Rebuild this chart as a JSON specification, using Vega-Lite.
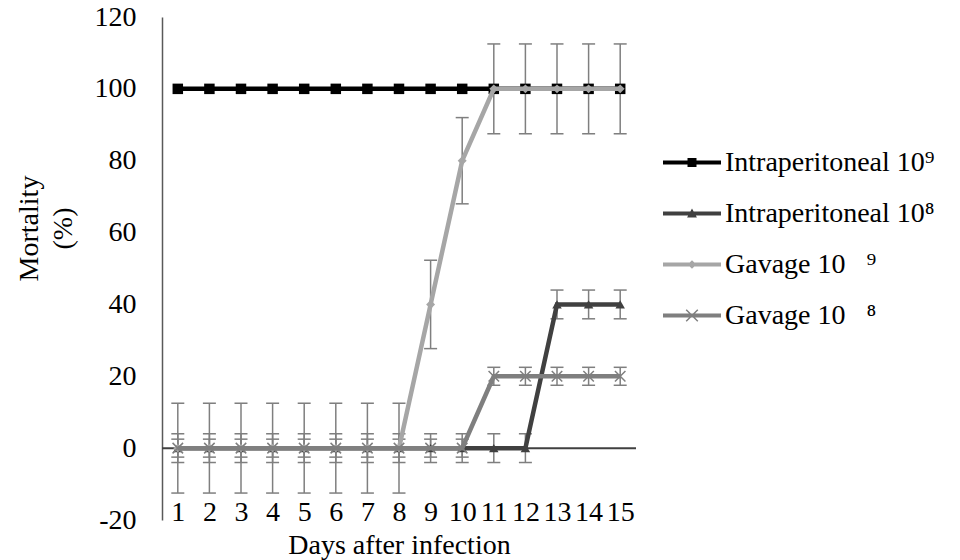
{
  "$schema": "https://vega.github.io/schema/vega-lite/v6.json",
  "autosize": {"type": "none"},
  "width": 474,
  "height": 503,
  "padding": {"left": 162, "top": 17, "right": 324, "bottom": 40},
  "background": "white",
  "config": {
    "view": {"stroke": null},
    "font": "Liberation Serif",
    "axisX": {
      "domain": false, "ticks": false, "tickSize": 0, "grid": false,
      "labelFont": "Liberation Serif", "labelFontSize": 28, "labelColor": "#000000",
      "labelAngle": 0, "labelBaseline": "alphabetic", "labelPadding": 0,
      "labelOverlap": false, "labelBound": false,
      "titleFont": "Liberation Serif", "titleFontSize": 28, "titleFontWeight": "normal",
      "titleColor": "#000000", "titleBaseline": "alphabetic", "titleY": 33
    },
    "axisY": {
      "domain": true, "domainColor": "#595959", "domainWidth": 1.5,
      "ticks": false, "tickSize": 0, "grid": false, "tickCount": 7,
      "labelFont": "Liberation Serif", "labelFontSize": 28, "labelColor": "#000000",
      "labelPadding": 26, "labelExpr": "replace(datum.label, '\u2212', '-')",
      "titleFont": "Liberation Serif", "titleFontSize": 28, "titleFontWeight": "normal",
      "titleColor": "#000000", "titleX": -147, "titleY": 211, "titleBaseline": "top",
      "titleAlign": "center", "titleLineHeight": 34
    }
  },
  "data": {
    "values": [
      {"day": 1, "series": "Intraperitoneal 10⁹", "mortality": 100},
      {"day": 2, "series": "Intraperitoneal 10⁹", "mortality": 100},
      {"day": 3, "series": "Intraperitoneal 10⁹", "mortality": 100},
      {"day": 4, "series": "Intraperitoneal 10⁹", "mortality": 100},
      {"day": 5, "series": "Intraperitoneal 10⁹", "mortality": 100},
      {"day": 6, "series": "Intraperitoneal 10⁹", "mortality": 100},
      {"day": 7, "series": "Intraperitoneal 10⁹", "mortality": 100},
      {"day": 8, "series": "Intraperitoneal 10⁹", "mortality": 100},
      {"day": 9, "series": "Intraperitoneal 10⁹", "mortality": 100},
      {"day": 10, "series": "Intraperitoneal 10⁹", "mortality": 100},
      {"day": 11, "series": "Intraperitoneal 10⁹", "mortality": 100},
      {"day": 12, "series": "Intraperitoneal 10⁹", "mortality": 100},
      {"day": 13, "series": "Intraperitoneal 10⁹", "mortality": 100},
      {"day": 14, "series": "Intraperitoneal 10⁹", "mortality": 100},
      {"day": 15, "series": "Intraperitoneal 10⁹", "mortality": 100},
      {"day": 1, "series": "Intraperitoneal 10⁸", "mortality": 0, "lo": -4, "hi": 4},
      {"day": 2, "series": "Intraperitoneal 10⁸", "mortality": 0, "lo": -4, "hi": 4},
      {"day": 3, "series": "Intraperitoneal 10⁸", "mortality": 0, "lo": -4, "hi": 4},
      {"day": 4, "series": "Intraperitoneal 10⁸", "mortality": 0, "lo": -4, "hi": 4},
      {"day": 5, "series": "Intraperitoneal 10⁸", "mortality": 0, "lo": -4, "hi": 4},
      {"day": 6, "series": "Intraperitoneal 10⁸", "mortality": 0, "lo": -4, "hi": 4},
      {"day": 7, "series": "Intraperitoneal 10⁸", "mortality": 0, "lo": -4, "hi": 4},
      {"day": 8, "series": "Intraperitoneal 10⁸", "mortality": 0, "lo": -4, "hi": 4},
      {"day": 9, "series": "Intraperitoneal 10⁸", "mortality": 0, "lo": -4, "hi": 4},
      {"day": 10, "series": "Intraperitoneal 10⁸", "mortality": 0, "lo": -4, "hi": 4},
      {"day": 11, "series": "Intraperitoneal 10⁸", "mortality": 0, "lo": -4, "hi": 4},
      {"day": 12, "series": "Intraperitoneal 10⁸", "mortality": 0, "lo": -4, "hi": 4},
      {"day": 13, "series": "Intraperitoneal 10⁸", "mortality": 40, "lo": 36, "hi": 44},
      {"day": 14, "series": "Intraperitoneal 10⁸", "mortality": 40, "lo": 36, "hi": 44},
      {"day": 15, "series": "Intraperitoneal 10⁸", "mortality": 40, "lo": 36, "hi": 44},
      {"day": 1, "series": "Gavage 10⁹", "mortality": 0, "lo": -12.5, "hi": 12.5},
      {"day": 2, "series": "Gavage 10⁹", "mortality": 0, "lo": -12.5, "hi": 12.5},
      {"day": 3, "series": "Gavage 10⁹", "mortality": 0, "lo": -12.5, "hi": 12.5},
      {"day": 4, "series": "Gavage 10⁹", "mortality": 0, "lo": -12.5, "hi": 12.5},
      {"day": 5, "series": "Gavage 10⁹", "mortality": 0, "lo": -12.5, "hi": 12.5},
      {"day": 6, "series": "Gavage 10⁹", "mortality": 0, "lo": -12.5, "hi": 12.5},
      {"day": 7, "series": "Gavage 10⁹", "mortality": 0, "lo": -12.5, "hi": 12.5},
      {"day": 8, "series": "Gavage 10⁹", "mortality": 0, "lo": -12.5, "hi": 12.5},
      {"day": 9, "series": "Gavage 10⁹", "mortality": 40, "lo": 27.7, "hi": 52.3},
      {"day": 10, "series": "Gavage 10⁹", "mortality": 80, "lo": 68, "hi": 92},
      {"day": 11, "series": "Gavage 10⁹", "mortality": 100, "lo": 87.5, "hi": 112.5},
      {"day": 12, "series": "Gavage 10⁹", "mortality": 100, "lo": 87.5, "hi": 112.5},
      {"day": 13, "series": "Gavage 10⁹", "mortality": 100, "lo": 87.5, "hi": 112.5},
      {"day": 14, "series": "Gavage 10⁹", "mortality": 100, "lo": 87.5, "hi": 112.5},
      {"day": 15, "series": "Gavage 10⁹", "mortality": 100, "lo": 87.5, "hi": 112.5},
      {"day": 1, "series": "Gavage 10⁸", "mortality": 0, "lo": -2.5, "hi": 2.5},
      {"day": 2, "series": "Gavage 10⁸", "mortality": 0, "lo": -2.5, "hi": 2.5},
      {"day": 3, "series": "Gavage 10⁸", "mortality": 0, "lo": -2.5, "hi": 2.5},
      {"day": 4, "series": "Gavage 10⁸", "mortality": 0, "lo": -2.5, "hi": 2.5},
      {"day": 5, "series": "Gavage 10⁸", "mortality": 0, "lo": -2.5, "hi": 2.5},
      {"day": 6, "series": "Gavage 10⁸", "mortality": 0, "lo": -2.5, "hi": 2.5},
      {"day": 7, "series": "Gavage 10⁸", "mortality": 0, "lo": -2.5, "hi": 2.5},
      {"day": 8, "series": "Gavage 10⁸", "mortality": 0, "lo": -2.5, "hi": 2.5},
      {"day": 9, "series": "Gavage 10⁸", "mortality": 0, "lo": -2.5, "hi": 2.5},
      {"day": 10, "series": "Gavage 10⁸", "mortality": 0, "lo": -2.5, "hi": 2.5},
      {"day": 11, "series": "Gavage 10⁸", "mortality": 20, "lo": 17.5, "hi": 22.5},
      {"day": 12, "series": "Gavage 10⁸", "mortality": 20, "lo": 17.5, "hi": 22.5},
      {"day": 13, "series": "Gavage 10⁸", "mortality": 20, "lo": 17.5, "hi": 22.5},
      {"day": 14, "series": "Gavage 10⁸", "mortality": 20, "lo": 17.5, "hi": 22.5},
      {"day": 15, "series": "Gavage 10⁸", "mortality": 20, "lo": 17.5, "hi": 22.5}
    ]
  },
  "layer": [
    {
      "data": {"values": [{}]},
      "mark": {"type": "rule", "color": "#404040", "strokeWidth": 2},
      "encoding": {"y": {"datum": 0, "type": "quantitative", "scale": {"domain": [-20, 120], "nice": false, "zero": false}, "title": ["Mortality", "(%)"]}}
    },
    {
      "transform": [{"filter": "isValid(datum.lo)"}],
      "mark": {"type": "rule", "color": "#7f7f7f", "strokeWidth": 1.5},
      "encoding": {
        "x": {"field": "day", "type": "ordinal", "scale": {"type": "point", "padding": 0.5}, "title": "Days after infection"},
        "y": {"field": "lo", "type": "quantitative", "scale": {"domain": [-20, 120], "nice": false, "zero": false}, "title": ["Mortality", "(%)"]},
        "y2": {"field": "hi"}
      }
    },
    {
      "transform": [{"filter": "isValid(datum.lo)"}],
      "mark": {"type": "tick", "color": "#7f7f7f", "thickness": 1.5, "size": 13, "opacity": 1, "orient": "horizontal"},
      "encoding": {
        "x": {"field": "day", "type": "ordinal", "scale": {"type": "point", "padding": 0.5}, "title": "Days after infection"},
        "y": {"field": "lo", "type": "quantitative", "title": ["Mortality", "(%)"]}
      }
    },
    {
      "transform": [{"filter": "isValid(datum.hi)"}],
      "mark": {"type": "tick", "color": "#7f7f7f", "thickness": 1.5, "size": 13, "opacity": 1, "orient": "horizontal"},
      "encoding": {
        "x": {"field": "day", "type": "ordinal", "scale": {"type": "point", "padding": 0.5}, "title": "Days after infection"},
        "y": {"field": "hi", "type": "quantitative", "title": ["Mortality", "(%)"]}
      }
    },
    {
      "transform": [{"filter": "datum.series === 'Intraperitoneal 10⁹'"}],
      "encoding": {
        "x": {"field": "day", "type": "ordinal", "scale": {"type": "point", "padding": 0.5}, "title": "Days after infection"},
        "y": {"field": "mortality", "type": "quantitative", "title": ["Mortality", "(%)"]}
      },
      "layer": [
        {"mark": {"type": "line", "color": "#000000", "strokeWidth": 4.5}},
        {"mark": {"type": "point", "shape": "square", "filled": true, "color": "#000000", "size": 110, "opacity": 1}}
      ]
    },
    {
      "transform": [{"filter": "datum.series === 'Intraperitoneal 10⁸'"}],
      "encoding": {
        "x": {"field": "day", "type": "ordinal", "scale": {"type": "point", "padding": 0.5}, "title": "Days after infection"},
        "y": {"field": "mortality", "type": "quantitative", "title": ["Mortality", "(%)"]}
      },
      "layer": [
        {"mark": {"type": "line", "color": "#404040", "strokeWidth": 4.5}},
        {"mark": {"type": "point", "shape": "triangle-up", "filled": true, "color": "#404040", "size": 90, "opacity": 1}}
      ]
    },
    {
      "transform": [{"filter": "datum.series === 'Gavage 10⁹'"}],
      "encoding": {
        "x": {"field": "day", "type": "ordinal", "scale": {"type": "point", "padding": 0.5}, "title": "Days after infection"},
        "y": {"field": "mortality", "type": "quantitative", "title": ["Mortality", "(%)"]}
      },
      "layer": [
        {"mark": {"type": "line", "color": "#a6a6a6", "strokeWidth": 4.5}},
        {"mark": {"type": "point", "shape": "diamond", "filled": true, "color": "#a6a6a6", "size": 80, "opacity": 1}}
      ]
    },
    {
      "transform": [{"filter": "datum.series === 'Gavage 10⁸'"}],
      "encoding": {
        "x": {"field": "day", "type": "ordinal", "scale": {"type": "point", "padding": 0.5}, "title": "Days after infection"},
        "y": {"field": "mortality", "type": "quantitative", "title": ["Mortality", "(%)"]}
      },
      "layer": [
        {"mark": {"type": "line", "color": "#7f7f7f", "strokeWidth": 4.5}},
        {"mark": {"type": "point", "shape": "M-1,-1L1,1M-1,1L1,-1", "filled": false, "color": "#7f7f7f", "strokeWidth": 1.5, "size": 110, "opacity": 1}}
      ]
    },
    {
      "transform": [{"filter": "datum.day > 99"}],
      "mark": {"type": "point", "filled": true, "opacity": 1},
      "encoding": {
        "fill": {
          "field": "series", "type": "nominal",
          "scale": {"domain": ["Intraperitoneal 10⁹", "Intraperitoneal 10⁸", "Gavage 10⁹", "Gavage 10⁸"], "range": ["#000000", "#404040", "#a6a6a6", "#7f7f7f"]},
          "legend": {"title": null, "orient": "none", "legendX": 501, "legendY": 120, "padding": 0, "symbolSize": 3364, "clipHeight": 51, "rowPadding": 0, "labelFont": "Liberation Serif", "labelFontSize": 28, "labelColor": "#000000", "labelOffset": 4, "symbolStrokeWidth": 0, "symbolOpacity": 1, "labelLimit": 400, "labelExpr": "replace(datum.label, 'Gavage 10', 'Gavage 10\u00a0\u00a0\u00a0')"}
        },
        "shape": {
          "field": "series", "type": "nominal",
          "scale": {"domain": ["Intraperitoneal 10⁹", "Intraperitoneal 10⁸", "Gavage 10⁹", "Gavage 10⁸"], "range": [
            "M-1,-0.07H1V0.07H-1ZM-0.155,-0.155H0.155V0.155H-0.155Z",
            "M-1,-0.07H1V0.07H-1ZM0,-0.17L0.17,0.14H-0.17Z",
            "M-1,-0.07H1V0.07H-1ZM0,-0.15L0.15,0L0,0.15L-0.15,0Z",
            "M-1,-0.07H1V0.07H-1ZM-0.182,-0.218L0.218,0.182L0.182,0.218L-0.218,-0.182ZM-0.218,0.182L0.182,-0.218L0.218,-0.182L-0.182,0.218Z"
          ]},
          "legend": {"title": null, "orient": "none", "legendX": 501, "legendY": 120, "padding": 0, "symbolSize": 3364, "clipHeight": 51, "rowPadding": 0, "labelFont": "Liberation Serif", "labelFontSize": 28, "labelColor": "#000000", "labelOffset": 4, "symbolStrokeWidth": 0, "symbolOpacity": 1, "labelLimit": 400, "labelExpr": "replace(datum.label, 'Gavage 10', 'Gavage 10\u00a0\u00a0\u00a0')"}
        }
      }
    }
  ]
}
